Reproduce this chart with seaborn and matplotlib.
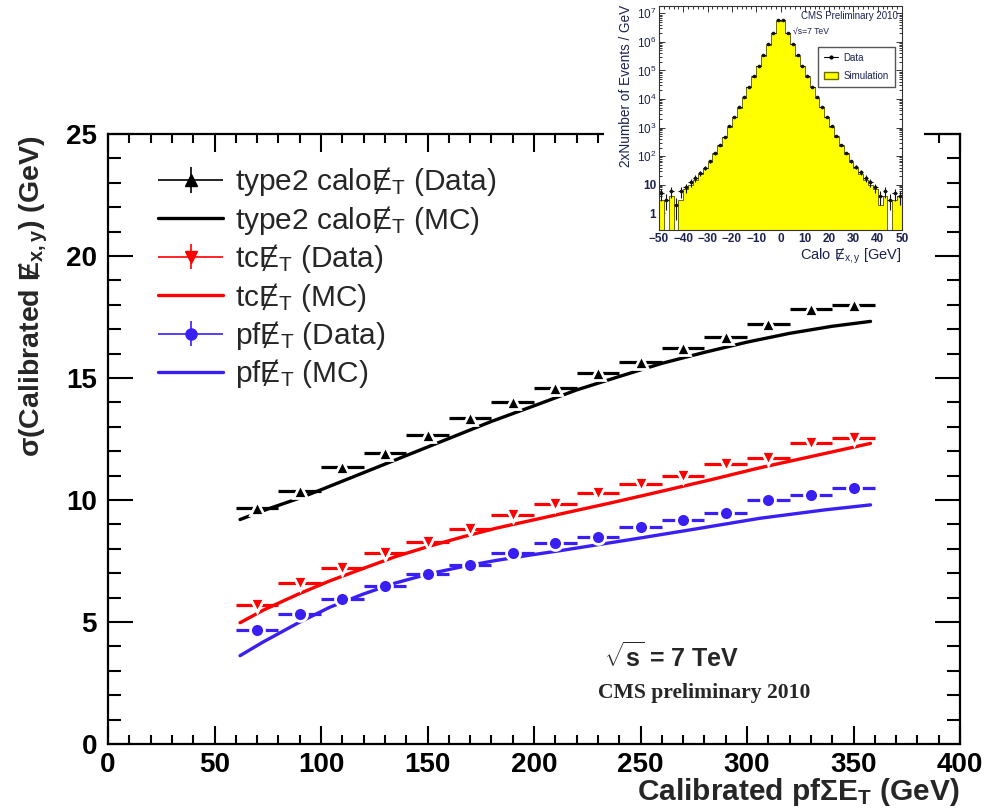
import numpy as np
import matplotlib
matplotlib.use("Agg")
import matplotlib.pyplot as plt
import seaborn as sns
from matplotlib.ticker import MultipleLocator, FixedLocator, FixedFormatter, LogLocator, NullFormatter
from matplotlib.legend_handler import HandlerErrorbar
from matplotlib.container import ErrorbarContainer
from matplotlib.patches import Patch
from matplotlib.lines import Line2D

# ---------------- data (main plot) ----------------
bin_centers = [70, 90, 110, 130, 150, 170, 190, 210, 230, 250, 270, 290, 310, 330, 350]
bin_half_width = 10
calo_data = [9.66, 10.38, 11.36, 11.94, 12.66, 13.35, 14.03, 14.58, 15.22, 15.67, 16.24, 16.69, 17.21, 17.82, 17.99]
tc_data = [5.70, 6.58, 7.23, 7.81, 8.29, 8.80, 9.39, 9.84, 10.27, 10.64, 10.98, 11.46, 11.73, 12.32, 12.53]
pf_data = [4.67, 5.33, 5.94, 6.48, 6.97, 7.34, 7.84, 8.22, 8.50, 8.91, 9.18, 9.48, 10.00, 10.20, 10.48]

calo_mc_x = [62, 75, 90, 100, 120, 140, 160, 180, 200, 220, 240, 260, 280, 300, 320, 340, 358]
calo_mc = [9.20, 9.63, 10.08, 10.42, 11.12, 11.82, 12.52, 13.22, 13.86, 14.51, 15.06, 15.60, 16.05, 16.47, 16.83, 17.12, 17.32]
tc_mc_x = [62, 73, 89, 104, 120, 135, 151, 167, 182, 198, 212, 236, 259, 283, 306, 330, 358]
tc_mc = [4.97, 5.49, 6.13, 6.68, 7.20, 7.68, 8.11, 8.50, 8.84, 9.15, 9.42, 9.88, 10.34, 10.83, 11.32, 11.78, 12.32]
pf_mc_x = [62, 73, 89, 104, 120, 135, 151, 167, 182, 198, 212, 244, 275, 306, 337, 358]
pf_mc = [3.62, 4.19, 4.95, 5.60, 6.15, 6.60, 6.98, 7.28, 7.52, 7.74, 7.92, 8.36, 8.80, 9.25, 9.60, 9.80]

x_ticks = [0, 50, 100, 150, 200, 250, 300, 350, 400]
y_ticks = [0, 5, 10, 15, 20, 25]

# ---------------- data (inset histogram) ----------------
inset_edges = list(range(-50, 51, 2))
inset_centers = list(range(-49, 50, 2))
sim_counts = [3, 0, 4, 0, 3, 7, 10, 15, 23, 37, 62, 115, 225, 450, 1050, 2300, 5000, 1.1e4, 2.6e4, 6.0e4,
              1.4e5, 3.3e5, 8.0e5, 2.0e6, 5.5e6,
              5.6e6, 2.0e6, 8.2e5, 3.3e5, 1.4e5, 6.1e4, 2.6e4, 1.1e4, 5100, 2300, 1050, 460, 230, 118, 63,
              38, 24, 15, 10, 7, 2, 4, 0, 3, 4]
data_counts = [5, 3, 6, 2, 6, 8, 12, 17, 26, 40, 68, 125, 240, 480, 1100, 2400, 5200, 1.15e4, 2.7e4, 6.2e4,
               1.45e5, 3.4e5, 8.2e5, 2.05e6, 5.6e6,
               5.7e6, 2.05e6, 8.3e5, 3.4e5, 1.45e5, 6.3e4, 2.7e4, 1.15e4, 5300, 2400, 1100, 490, 245, 128, 68,
               42, 27, 17, 12, 8, 4, 6, 3, 5, 4]
inset_xticks = [-50, -40, -30, -20, -10, 0, 10, 20, 30, 40, 50]
inset_yticks = [1, 10, 1e2, 1e3, 1e4, 1e5, 1e6, 1e7]
inset_ytick_labels = ["1", "10", "$10^{2}$", "$10^{3}$", "$10^{4}$", "$10^{5}$", "$10^{6}$", "$10^{7}$"]

BLACK = "#000000"
RED = "#ff0000"
BLUE = "#3a1ff5"

# ---------------- style ----------------
sns.set_theme(style="ticks")
plt.rcParams["font.family"] = ["Liberation Sans", "DejaVu Sans"]
plt.rcParams["mathtext.fontset"] = "custom"
plt.rcParams["mathtext.rm"] = "Liberation Sans"
plt.rcParams["mathtext.it"] = "Liberation Sans:italic"
plt.rcParams["mathtext.bf"] = "Liberation Sans:bold"
plt.rcParams["axes.edgecolor"] = "black"
plt.rcParams["xtick.color"] = "black"
plt.rcParams["ytick.color"] = "black"

fig = plt.figure(figsize=(9.84, 8.09), dpi=100)
W, H = 984.0, 809.0
ax = fig.add_axes([108 / W, (H - 744) / H, 852 / W, 610 / H])

# MC curves (seaborn)
mc_lines = []
for xv, yv, col in [(calo_mc_x, calo_mc, BLACK), (tc_mc_x, tc_mc, RED), (pf_mc_x, pf_mc, BLUE)]:
    sns.lineplot(x=xv, y=yv, color=col, linewidth=2.4, ax=ax, legend=False, zorder=2)
    mc_lines.append(ax.lines[-1])

# Data points with bin-width bars
specs = [(calo_data, BLACK, "^"), (tc_data, RED, "v"), (pf_data, BLUE, "o")]
for yv, col, mk in specs:
    ax.errorbar(bin_centers, yv, xerr=bin_half_width, fmt=mk, color=col, ms=10,
                mec="white", mew=2.0, elinewidth=2.3, capsize=0, zorder=3)

# legend proxies
proxies = []
for yv, col, mk in specs:
    p = ax.errorbar([np.nan], [np.nan], xerr=[1], yerr=[1], fmt=mk, color=col, ms=8,
                    elinewidth=1.2, capsize=0)
    proxies.append(p)

labels = ["type2 calo\u0246$_{\\mathrm{T}}$ (Data)", "type2 calo\u0246$_{\\mathrm{T}}$ (MC)",
          "tc\u0246$_{\\mathrm{T}}$ (Data)", "tc\u0246$_{\\mathrm{T}}$ (MC)",
          "pf\u0246$_{\\mathrm{T}}$ (Data)", "pf\u0246$_{\\mathrm{T}}$ (MC)"]
handles = [proxies[0], mc_lines[0], proxies[1], mc_lines[1], proxies[2], mc_lines[2]]
leg = ax.legend(handles, labels, loc="upper left", bbox_to_anchor=(0.045, 0.968), frameon=False,
                fontsize=21.5, handlelength=2.17, handletextpad=0.4, labelspacing=0.18, borderaxespad=0,
                numpoints=1,
                handler_map={ErrorbarContainer: HandlerErrorbar(xerr_size=1.085, yerr_size=0.42)})

ax.set_xlim(0, 400)
ax.set_ylim(0, 25)
ax.set_xticks(x_ticks)
ax.set_yticks(y_ticks)
ax.xaxis.set_minor_locator(MultipleLocator(10))
ax.yaxis.set_minor_locator(MultipleLocator(1))
ax.tick_params(which="both", direction="in", top=True, right=True, width=1.5)
ax.tick_params(axis="y", which="major", length=18, pad=8)
ax.tick_params(axis="y", which="minor", length=9.5)
ax.tick_params(axis="x", which="major", length=13, pad=6)
ax.tick_params(axis="x", which="minor", length=6.5)
for lab in ax.get_xticklabels() + ax.get_yticklabels():
    lab.set_fontsize(20)
    lab.set_fontweight("bold")
for s in ax.spines.values():
    s.set_linewidth(1.6)
    s.set_color("black")
ax.set_xlabel("")
ax.set_ylabel("")

fig.text(960 / W, 1 - 800 / H, "Calibrated pf\u03a3E$_{\\mathbf{T}}$ (GeV)", ha="right", va="baseline",
         fontsize=21.5, fontweight="bold")
fig.text(34 / W, 1 - 136 / H, "\u03c3(Calibrated \u0246$_{\\mathbf{x,y}}$) (GeV)", rotation=90,
         ha="center", va="top", fontsize=20.5, fontweight="bold")

ax.text(0.662, 0.1426, "$\\sqrt{\\mathbf{s}}$ = 7 TeV", transform=ax.transAxes, ha="center", va="center",
        fontsize=18, fontweight="bold")
ax.text(0.6995, 0.0836, "CMS preliminary 2010", transform=ax.transAxes, ha="center", va="center",
        fontsize=15.6, fontweight="bold", family=["Liberation Serif", "DejaVu Serif"])

# ---------------- inset ----------------
cover = fig.add_axes([604 / W, (H - 270) / H, 320 / W, 270 / H])
cover.set_facecolor("white")
cover.set_xticks([])
cover.set_yticks([])
for s in cover.spines.values():
    s.set_visible(False)

INK = "#1c2250"
ins = fig.add_axes([659 / W, (H - 230) / H, 243 / W, 224 / H])
sns.histplot(x=inset_centers, weights=sim_counts, bins=inset_edges, element="step", fill=True,
             color="#ffff00", alpha=1.0, edgecolor="#6b6b00", linewidth=0.7, ax=ins)
ins.set_yscale("log")
ins.errorbar(inset_centers, data_counts, xerr=1, yerr=np.sqrt(data_counts), fmt="o", ms=1.6,
             color="#111111", elinewidth=0.8, capsize=0)
ins.set_xlim(-50, 50)
ins.set_ylim(0.26, 1.8e7)
ins.set_xticks(inset_xticks)
ins.xaxis.set_minor_locator(MultipleLocator(2))
ins.yaxis.set_major_locator(FixedLocator(inset_yticks))
ins.yaxis.set_major_formatter(FixedFormatter(inset_ytick_labels))
ins.yaxis.set_minor_locator(LogLocator(base=10, subs=np.arange(2, 10)))
ins.yaxis.set_minor_formatter(NullFormatter())
ins.tick_params(which="both", direction="in", top=True, right=True, width=0.7, colors="#333333",
                labelcolor=INK, labelsize=8.5, pad=2)
ins.tick_params(which="major", length=4)
ins.tick_params(which="minor", length=2)
for lab in ins.get_xticklabels() + ins.get_yticklabels():
    lab.set_fontweight("bold")
for s in ins.spines.values():
    s.set_linewidth(0.8)
    s.set_color("#333333")
ins.set_xlabel("")
ins.set_ylabel("")
fig.text(626 / W, 1 - 5 / H, "2xNumber of Events / GeV", rotation=90, ha="center", va="top",
         fontsize=9.8, color=INK)
fig.text(902 / W, 1 - 256 / H, "Calo \u0246$_{\\mathrm{x,y}}$ [GeV]", ha="right", va="center",
         fontsize=10.5, color=INK)
ins.text(0.985, 0.955, "CMS Preliminary 2010", transform=ins.transAxes, ha="right", va="center",
         fontsize=7, color=INK)
ins.text(0.55, 0.885, "\u221as=7 TeV", transform=ins.transAxes, ha="left", va="center",
         fontsize=6.2, color=INK)
ih = [Line2D([0], [0], color="black", marker="o", ms=2, lw=0.8), Patch(facecolor="#ffff00", edgecolor="#6b6b00")]
ins.legend(ih, ["Data", "Simulation"], loc="upper right", bbox_to_anchor=(0.99, 0.84), fontsize=7,
           frameon=True, fancybox=False, edgecolor="#555555", framealpha=1, borderpad=0.6,
           labelspacing=0.9, handlelength=1.4, handletextpad=0.6, labelcolor=INK)

fig.savefig("out.png", dpi=100)
